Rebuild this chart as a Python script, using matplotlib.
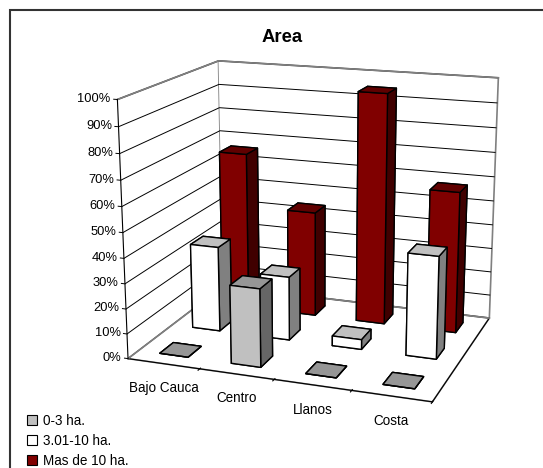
from matplotlib import pyplot as plt
from matplotlib.patches import Patch, Rectangle
from mpl_toolkits.mplot3d import proj3d

plt.rcParams['font.family'] = ['Liberation Sans', 'DejaVu Sans']

categories = ['Bajo Cauca', 'Centro', 'Llanos', 'Costa']
series_names = ['0-3 ha.', '3.01-10 ha.', 'Mas de 10 ha.']
small = [0, 31, 0, 0]
medium = [35, 26, 4, 41]
large = [66, 44, 95, 58]
ticks = list(range(0, 101, 10))

fig = plt.figure(figsize=(5.43, 4.68), dpi=100)
ax = fig.add_axes([(37.5 + 38.08) / 543, 11.53 / 468, 468 / 543, 1], projection='3d', computed_zorder=False)
ax.set_facecolor('none')
ax.set_xlim(0, 4, view_margin=0)
ax.set_ylim(0, 3, view_margin=0)
ax.set_zlim(0, 100, view_margin=0)

# camera fitted to the corners of the box in the reference
ax.view_init(elev=15.93, azim=-70.23)
ax.set_proj_type('persp', focal_length=0.5334)
ax.set_box_aspect((1, 0.755, 0.8374), zoom=0.9674)


def label(x, y, z, s, **kw):
    # plain 2D text at the projected spot of a 3D point
    x2, y2, _ = proj3d.proj_transform(x, y, z, ax.get_proj())
    ax.text2D(x2, y2, s, transform=ax.transData, va='center', **kw)


colors = [('#C0C0C0', '#666666', '#969696'),
          ('#FFFFFF', '#808080', '#C0C0C0'),
          ('#800000', '#400000', '#600000')]
values = [small, medium, large]
w = 0.4
order = 10
for j in [2, 1, 0]:
    for i in range(4):
        f, s, t = colors[j]
        ax.bar3d(i + 0.5 - w / 2, j + 0.5 - w / 2, 0, w, w, values[j][i],
                 color=[t, t, f, f, s, s], shade=False, edgecolor='black',
                 linewidth=1.0, zorder=order)
        order += 1

for axis in (ax.xaxis, ax.yaxis, ax.zaxis):
    axis.set_pane_color((1, 1, 1, 1))
    axis.pane.set_edgecolor('#808080')
    axis.pane.set_linewidth(1.2)
    axis.line.set_color('black')
    axis.line.set_linewidth(0.8)
ax.xaxis._axinfo['grid'].update(linewidth=0)
ax.yaxis._axinfo['grid'].update(linewidth=0)
ax.zaxis._axinfo['grid'].update(color='black', linewidth=0.7)
ax.zaxis._axinfo['tick'].update(inward_factor=0, outward_factor=0)
ax.zaxis.line.set_color('none')
ax.set_xticks([1, 2, 3, 4])
ax.set_xticklabels([])
ax.set_yticks([])
ax.set_zticks(ticks)
ax.set_zticklabels([])

# walls: grey top and bottom edges, black value axis on the front left corner
ax.plot([0, 0, 4], [0, 3, 3], [100, 100, 100], color='#808080', lw=1.2, zorder=1)
ax.plot([0, 0, 4], [0, 3, 3], [0, 0, 0], color='#808080', lw=1.2, zorder=1)
ax.plot([0, 0], [0, 0], [0, 100], color='black', lw=0.8, zorder=2)
for v in ticks:
    ax.plot([-0.05, 0], [0, 0], [v, v], color='black', lw=0.7, zorder=2)
    label(-0.09, 0, v, '%d%%' % v, ha='right', fontsize=9.3)

for i, name in enumerate(categories):
    label(i + 0.5, 0, -9.7, name, ha='center', fontsize=9.75)

fig.text(282 / 543, 1 - 37 / 468, 'Area', ha='center', va='center', fontsize=13.3, fontweight='bold')

handles = [Patch(facecolor=c[0], edgecolor='black', linewidth=0.8) for c in colors]
fig.legend(handles, series_names, loc='lower left', bbox_to_anchor=(23 / 543, -4 / 468), frameon=False,
           fontsize=9.75, handlelength=0.75, handleheight=0.75, handletextpad=0.4, labelspacing=0.45,
           borderpad=0.3, borderaxespad=0)

fig.add_artist(Rectangle((10 / 543, -0.1), 1.1, 1.1 - 10 / 468, transform=fig.transFigure, fill=False,
                         edgecolor='#333333', linewidth=1.5))

fig.savefig('out.png', dpi=100)
